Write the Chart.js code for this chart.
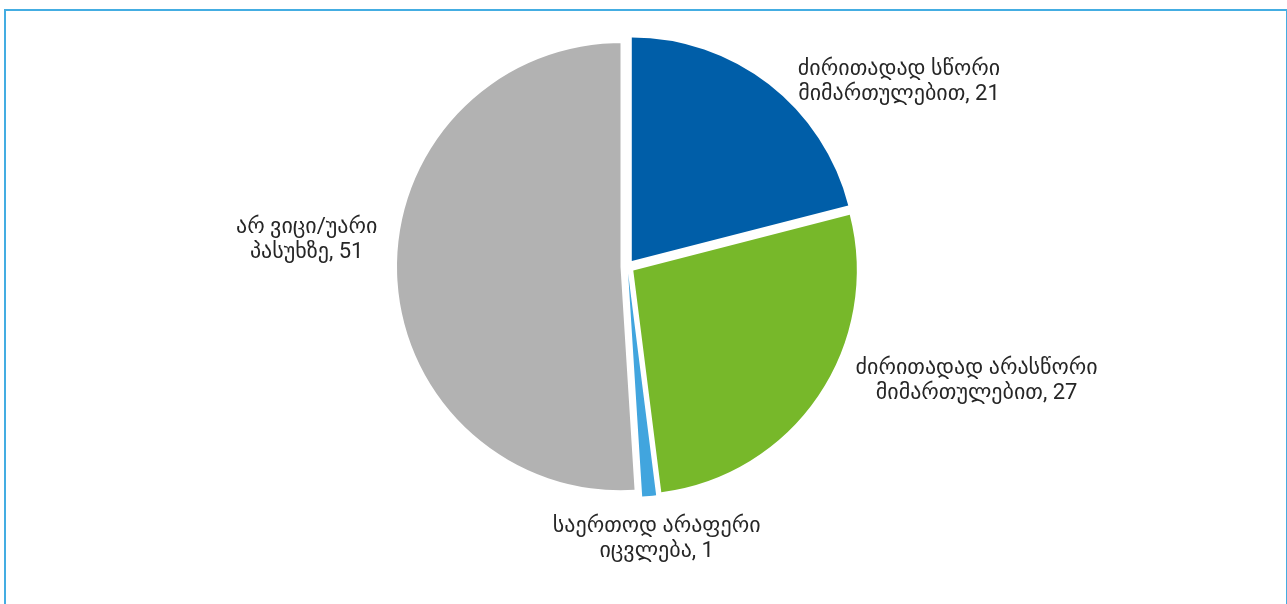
<!DOCTYPE html>
<html>
<head>
<meta charset="utf-8">
<script src="https://cdn.jsdelivr.net/npm/chart.js@4/dist/chart.umd.min.js"></script>
<style>
  html, body { margin: 0; padding: 0; background: #fff; }
  #wrap { position: relative; width: 1287px; height: 604px; overflow: hidden; }
  #frame {
    position: absolute; left: 4px; top: 9px; width: 1280px; height: 620px;
    border: 2px solid #44ade2; pointer-events: none;
  }
  canvas { position: absolute; left: 0; top: 0; }
</style>
</head>
<body>
<div id="wrap">
  <canvas id="pie" width="1287" height="604"></canvas>
  <div id="frame"></div>
</div>
<script>
// answer categories (two lines each, as in the original labels)
const labels = [
  ["ძირითადად სწორი", "მიმართულებით"],
  ["ძირითადად არასწორი", "მიმართულებით"],
  ["საერთოდ არაფერი", "იცვლება"],
  ["არ ვიცი/უარი", "პასუხზე"],
];
const values = [21, 27, 1, 51];
const colors = ["#005ea8", "#77b82a", "#41a5de", "#b2b2b2"];

// where each label sits: turn from slice middle (deg) and distance past the rim (px)
const labelTurn = [18.8, -15.3, -0.6, 5.5];
const labelGap = [101.7, 145.5, 55.7, 98];

const EXPLODE = 7;
const FONT = "22px Roboto, 'DejaVu Sans', sans-serif";
const LINE = 25;

// draw every slice pushed out along its middle angle
const explodePlugin = {
  id: "explode",
  beforeDatasetDraw(chart, args) {
    const ctx = chart.ctx;
    args.meta.data.forEach((arc) => {
      const a = (arc.startAngle + arc.endAngle) / 2;
      ctx.save();
      ctx.translate(Math.cos(a) * EXPLODE, Math.sin(a) * EXPLODE);
      arc.draw(ctx);
      ctx.restore();
    });
    return false;
  },
};

const labelPlugin = {
  id: "pieLabels",
  afterDatasetsDraw(chart) {
    const ctx = chart.ctx;
    const meta = chart.getDatasetMeta(0);
    ctx.save();
    ctx.font = FONT;
    ctx.fillStyle = "#262626";
    ctx.textAlign = "center";
    ctx.textBaseline = "alphabetic";
    meta.data.forEach((arc, i) => {
      const a = (arc.startAngle + arc.endAngle) / 2 + (labelTurn[i] * Math.PI) / 180;
      const d = arc.outerRadius + labelGap[i];
      const x = arc.x + Math.cos(a) * d;
      const y = arc.y + Math.sin(a) * d;
      const lines = [labels[i][0], labels[i][1] + ", " + values[i]];
      ctx.fillText(lines[0], x, y - LINE / 2);
      ctx.fillText(lines[1], x, y + LINE / 2);
    });
    ctx.restore();
  },
};

new Chart(document.getElementById("pie").getContext("2d"), {
  type: "pie",
  data: {
    labels: labels.map((l) => l.join(" ")),
    datasets: [
      {
        data: values,
        backgroundColor: colors,
        borderWidth: 0,
      },
    ],
  },
  options: {
    responsive: false,
    animation: false,
    radius: 223.5,
    layout: { padding: { left: 0, right: 32, top: 0, bottom: 71 } },
    plugins: {
      legend: { display: false },
      tooltip: { enabled: false },
    },
  },
  plugins: [explodePlugin, labelPlugin],
});
</script>
</body>
</html>
